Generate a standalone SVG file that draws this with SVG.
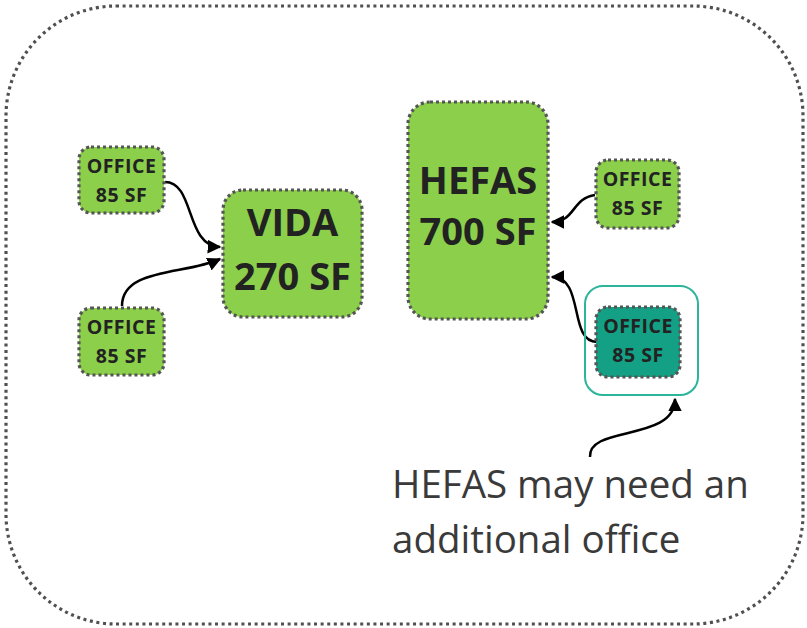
<svg xmlns="http://www.w3.org/2000/svg" width="807" height="628" viewBox="0 0 807 628">
<defs>
<style>
.frame{fill:none;stroke:#505050;stroke-width:3.2;stroke-dasharray:3 3.6}
.node{fill:#8bcf4b;stroke:#555;stroke-width:3.2;stroke-dasharray:3 3}
.teal{fill:#14a085;stroke:#555;stroke-width:3.2;stroke-dasharray:3 3}
.hl{fill:none;stroke:#2bb59a;stroke-width:2}
.t{font-family:"Open Sans","Liberation Sans",sans-serif;font-weight:700;fill:#222;text-anchor:middle}
.s{font-size:19.5px;letter-spacing:0.5px}
.b{font-size:38px}
.note{font-family:"Open Sans","Liberation Sans",sans-serif;font-size:38.5px;fill:#3a3a3a}
.c{fill:none;stroke:#000;stroke-width:2.5;marker-end:url(#ah)}
</style>
<marker id="ah" viewBox="0 0 10 10" refX="9" refY="5" markerWidth="5.5" markerHeight="5.5" orient="auto" markerUnits="strokeWidth">
<path d="M0,0 L10,5 L0,10 z" fill="#000"/>
</marker>
</defs>
<rect class="frame" x="6" y="6" width="797" height="618" rx="110"/>
<g id="connectors">
<path class="c" d="M165,182 C195,182 185,246 220,247"/>
<path class="c" d="M122,306 C122,268 185,275 220,259"/>
<path class="c" d="M595,195 C572,198 575,222 552,222"/>
<path class="c" d="M597,342 C568,342 585,277 552,277"/>
<path class="c" d="M590,457 C588,425 675,442 675,399"/>
</g>
<g id="office1">
<rect class="node" x="79" y="147" width="85" height="66" rx="12"/>
<text class="t s" x="121.5" y="173">OFFICE</text>
<text class="t s" x="121.5" y="202">85 SF</text>
</g>
<g id="office2">
<rect class="node" x="79" y="308" width="85" height="67" rx="12"/>
<text class="t s" x="121.5" y="334">OFFICE</text>
<text class="t s" x="121.5" y="363">85 SF</text>
</g>
<g id="vida">
<rect class="node" x="223" y="190" width="139" height="127" rx="20"/>
<text class="t b" x="292.5" y="236">VIDA</text>
<text class="t b" x="292.5" y="290">270 SF</text>
</g>
<g id="hefas">
<rect class="node" x="408" y="102" width="140" height="217" rx="22"/>
<text class="t b" x="478" y="194">HEFAS</text>
<text class="t b" x="478" y="245">700 SF</text>
</g>
<g id="office3">
<rect class="node" x="596" y="160" width="83" height="68" rx="12"/>
<text class="t s" x="637.5" y="186">OFFICE</text>
<text class="t s" x="637.5" y="215">85 SF</text>
</g>
<g id="office4">
<rect class="hl" x="585" y="286" width="113" height="109" rx="18"/>
<rect class="teal" x="596" y="307" width="84" height="70" rx="12"/>
<text class="t s" x="638" y="333">OFFICE</text>
<text class="t s" x="638" y="362">85 SF</text>
</g>
<g id="note">
<text class="note" x="392" y="498">HEFAS may need an</text>
<text class="note" x="392" y="553">additional office</text>
</g>
</svg>
